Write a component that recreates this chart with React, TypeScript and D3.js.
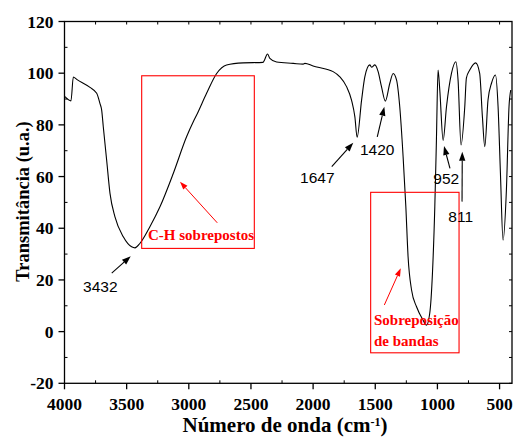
import React from 'react';
import * as d3 from 'd3';

// FTIR spectrum (cm-1, transmittance u.a.)
const wavenumbers = [
  3996, 3948, 3929, 3902, 3795, 3741, 3715, 3701, 3688, 3661, 3634, 3594, 3527, 3460, 3433,
  3394, 3313, 3232, 3125, 3018, 2964, 2937, 2857, 2776, 2696, 2562, 2404, 2366, 2348, 2294,
  2160, 2080, 2066, 2000, 1892, 1839, 1785, 1731, 1691, 1664, 1646, 1610, 1584, 1544, 1530,
  1503, 1477, 1450, 1419, 1383, 1356, 1329, 1303, 1276, 1254, 1236, 1208, 1168, 1115, 1088,
  1062, 1040, 1021, 1008, 995, 981, 954, 927, 887, 852, 834, 810, 780, 767, 740,
  692, 660, 638, 619, 593, 565, 533, 512, 493, 472, 445, 424, 410,
];
const transmittance = [
  90.9, 89.3, 98.5, 97.6, 94.5, 92.2, 88.3, 85.7, 79.3, 66.4, 53.5, 44.4, 36.7, 32.8, 32.4,
  34.1, 40.6, 48.3, 61.2, 75.4, 81.2, 83.8, 92.2, 99.9, 103.2, 104.0, 104.2, 107.4, 105.7, 104.3,
  103.8, 103.5, 103.8, 102.8, 101.5, 100.6, 98.6, 94.8, 89.6, 83.1, 75.2, 89.6, 98.6, 103.2, 102.3,
  103.2, 100.6, 94.8, 89.2, 96.1, 99.9, 97.4, 87.0, 67.7, 48.3, 29.0, 16.1, 9.6, 4.4, 2.5,
  7.0, 22.5, 48.3, 74.1, 101.2, 93.5, 74.0, 87.0, 99.9, 104.4, 97.4, 72.2, 87.0, 98.1, 101.2,
  104.0, 99.9, 83.1, 71.6, 89.6, 96.1, 99.3, 87.0, 61.2, 35.4, 54.8, 87.0, 93.5,
];

const xTicks = [4000, 3500, 3000, 2500, 2000, 1500, 1000, 500];
const yTicks = [-20, 0, 20, 40, 60, 80, 100, 120];

// peak labels: text position and arrow (tail -> head), in data units
const peakLabels = ['3432', '1647', '1420', '952', '811'];
const peakText = [[3851, 15.4], [2105, 57.4], [1623, 68.3], [1033, 57.1], [912, 42.5]];
const peakArrows = [
  [3620, 22.6, 3467, 29.2],
  [1850, 63.8, 1677, 73.1],
  [1484, 75.4, 1427, 87.0],
  [899, 63.2, 947, 71.8],
  [802, 50.3, 800, 69.6],
];

// red highlighted regions
const boxes = [[3379, 99.0, 2473, 32.2], [1537, 53.9, 826, -8.2]];
const boxArrows = [[2771, 42.1, 3071, 58.0], [1427, 10.3, 1295, 24.5]];
const boxLines = [
  [{ text: 'C-H sobrepostos', wn: 3328, t: 35.4 }],
  [{ text: 'Sobreposição', wn: 1510, t: 2.6 }, { text: 'de bandas', wn: 1510, t: -5.5 }],
];

const W = 514;
const H = 440;
const left = 64.5, right = 512, top = 21.5, bottom = 383.3;

function Arrow({ x1, y1, x2, y2, color, head, width }) {
  const ang = Math.atan2(y2 - y1, x2 - x1);
  const bx = x2 - head * Math.cos(ang);
  const by = y2 - head * Math.sin(ang);
  const hw = head * 0.35;
  const p = [
    [x2, y2],
    [bx + hw * Math.sin(ang), by - hw * Math.cos(ang)],
    [bx - hw * Math.sin(ang), by + hw * Math.cos(ang)],
  ];
  return (
    <g>
      <line x1={x1} y1={y1} x2={bx} y2={by} stroke={color} strokeWidth={width} />
      <polygon points={p.map(q => q.join(',')).join(' ')} fill={color} />
    </g>
  );
}

export default function App() {
  const x = d3.scaleLinear().domain([4000, 400]).range([left, right]);
  const y = d3.scaleLinear().domain([-20, 120]).range([bottom, top]);

  const pts = wavenumbers.map((w, i) => [w, transmittance[i]]);
  const line = d3.line()
    .x(d => x(d[0]))
    .y(d => y(d[1]))
    .curve(d3.curveMonotoneX);

  const xMinor = d3.range(4000, 400, -250).filter(v => v % 500 !== 0);
  const yMinor = d3.range(-10, 120, 20);

  const serif = '"Liberation Serif", "Times New Roman", serif';
  const sans = '"Liberation Sans", Arial, sans-serif';

  return (
    <svg width={W} height={H} style={{ position: 'absolute', left: 0, top: 0, background: '#fff' }}>
      {/* frame */}
      <rect x={left} y={top} width={right - left} height={bottom - top} fill="none" stroke="#000" strokeWidth={1.3} />

      {/* x axis ticks */}
      {xTicks.map(v => (
        <g key={'x' + v}>
          <line x1={x(v)} x2={x(v)} y1={bottom} y2={bottom + 6} stroke="#000" strokeWidth={1.3} />
          <line x1={x(v)} x2={x(v)} y1={top} y2={top + 3} stroke="#000" strokeWidth={1} />
          <text x={x(v)} y={bottom + 27} textAnchor="middle" fontFamily={serif} fontWeight="bold" fontSize={17.5}>{v}</text>
        </g>
      ))}
      {xMinor.map(v => (
        <g key={'xm' + v}>
          <line x1={x(v)} x2={x(v)} y1={bottom} y2={bottom - 3} stroke="#000" strokeWidth={1} />
          <line x1={x(v)} x2={x(v)} y1={top} y2={top + 3} stroke="#000" strokeWidth={1} />
        </g>
      ))}

      {/* y axis ticks */}
      {yTicks.map(v => (
        <g key={'y' + v}>
          <line x1={left - 6} x2={left} y1={y(v)} y2={y(v)} stroke="#000" strokeWidth={1.3} />
          <line x1={right} x2={right - 3} y1={y(v)} y2={y(v)} stroke="#000" strokeWidth={1} />
          <text x={left - 11} y={y(v) + 6} textAnchor="end" fontFamily={serif} fontWeight="bold" fontSize={17.5}>{v}</text>
        </g>
      ))}
      {yMinor.map(v => (
        <g key={'ym' + v}>
          <line x1={left} x2={left + 3} y1={y(v)} y2={y(v)} stroke="#000" strokeWidth={1} />
          <line x1={right} x2={right - 3} y1={y(v)} y2={y(v)} stroke="#000" strokeWidth={1} />
        </g>
      ))}

      {/* axis titles */}
      <text x={285} y={432} textAnchor="middle" fontFamily={serif} fontWeight="bold" fontSize={21}>
        Número de onda (cm<tspan dy={-6} fontSize={12}>-1</tspan><tspan dy={6}>)</tspan>
      </text>
      <text transform={`translate(29,201.5) rotate(-90)`} textAnchor="middle"
        fontFamily={serif} fontWeight="bold" fontSize={18.5}>Transmitância (u.a.)</text>

      {/* spectrum */}
      <path d={line(pts)} fill="none" stroke="#000" strokeWidth={1.1} />

      {/* red boxes */}
      {boxes.map((b, i) => (
        <g key={'b' + i}>
          <rect x={x(b[0])} y={y(b[1])} width={x(b[2]) - x(b[0])} height={y(b[3]) - y(b[1])}
            fill="none" stroke="#ff0000" strokeWidth={1.1} />
          <Arrow x1={x(boxArrows[i][0])} y1={y(boxArrows[i][1])} x2={x(boxArrows[i][2])} y2={y(boxArrows[i][3])}
            color="#ff0000" head={8} width={1} />
          {boxLines[i].map(l => (
            <text key={l.text} x={x(l.wn)} y={y(l.t)} fill="#ff0000" fontFamily={serif} fontWeight="bold" fontSize={15}>{l.text}</text>
          ))}
        </g>
      ))}

      {/* peak labels */}
      {peakLabels.map((lab, i) => (
        <g key={lab}>
          <text x={x(peakText[i][0])} y={y(peakText[i][1])} fontFamily={sans} fontSize={15.5}>{lab}</text>
          <Arrow x1={x(peakArrows[i][0])} y1={y(peakArrows[i][1])} x2={x(peakArrows[i][2])} y2={y(peakArrows[i][3])}
            color="#000" head={9} width={1.1} />
        </g>
      ))}
    </svg>
  );
}
